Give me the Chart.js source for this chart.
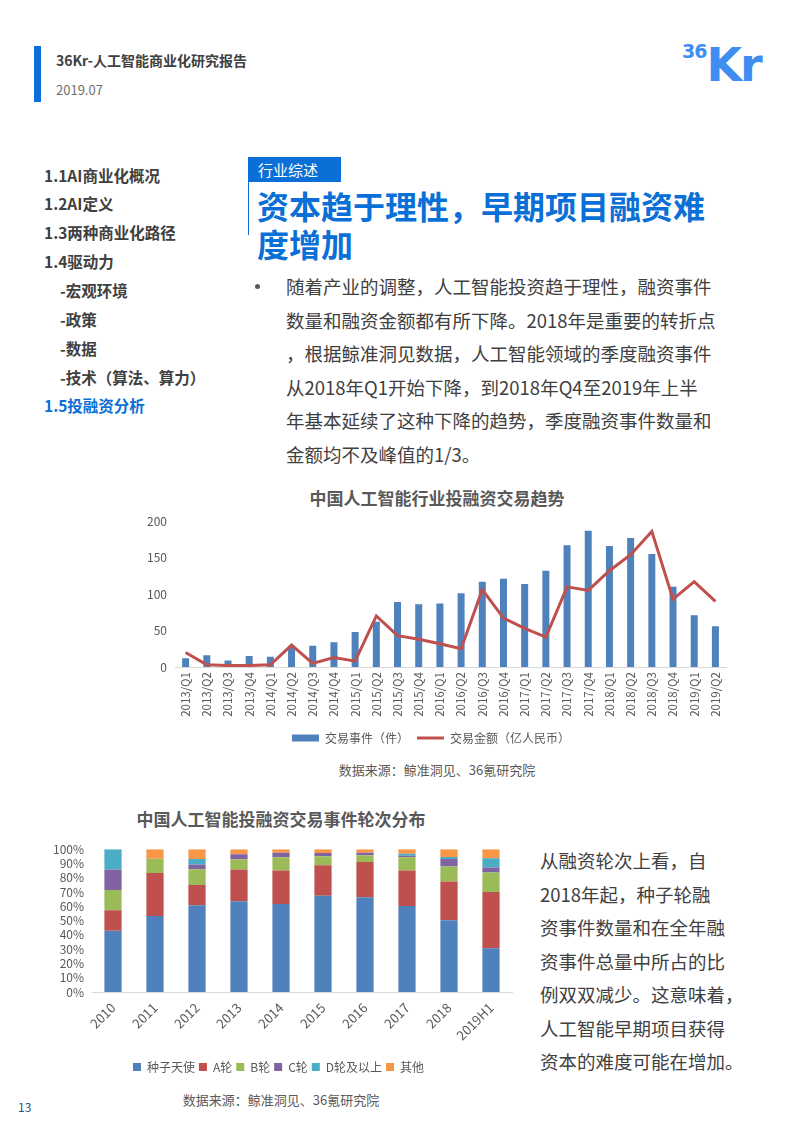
<!DOCTYPE html>
<html lang="zh">
<head>
<meta charset="UTF-8">
<title>36Kr-人工智能商业化研究报告</title>
<script src="https://cdn.jsdelivr.net/npm/chart.js@4.4.0/dist/chart.umd.min.js"></script>
<style>
  body { margin:0; width:793px; height:1122px; position:relative; background:#fff;
         font-family:"Noto Sans CJK SC","Noto Sans",sans-serif; color:#404040; overflow:hidden; }
  .abs { position:absolute; white-space:nowrap; }
  .nav { position:absolute; left:44px; font-size:15.5px; font-weight:bold; color:#404040; line-height:20px; }
  .nav.sub { left:60px; }
  .para { font-size:18.5px; line-height:33.5px; color:#404040; }
  .ctitle { font-size:17px; font-weight:bold; color:#595959; text-align:center; }
  .src { font-size:13px; color:#595959; text-align:center; }
</style>
</head>
<body>
<!-- header -->
<div class="abs" style="left:34px;top:46px;width:7px;height:56px;background:#0a6fd6;"></div>
<div class="abs" style="left:56px;top:50px;font-size:14px;font-weight:bold;color:#404040;">36Kr-人工智能商业化研究报告</div>
<div class="abs" style="left:56px;top:80px;font-size:13px;color:#707070;">2019.07</div>
<div class="abs" style="left:682px;top:40px;color:#3d8ef0;font-family:'DejaVu Sans';font-weight:bold;">
  <span style="font-size:19px;vertical-align:top;letter-spacing:-1px;">36</span><span style="font-size:46px;line-height:50px;letter-spacing:-2px;">Kr</span>
</div>

<!-- left nav -->
<div class="nav" style="top:165px;">1.1AI商业化概况</div>
<div class="nav" style="top:193px;">1.2AI定义</div>
<div class="nav" style="top:222px;">1.3两种商业化路径</div>
<div class="nav" style="top:251px;">1.4驱动力</div>
<div class="nav sub" style="top:280px;">-宏观环境</div>
<div class="nav sub" style="top:309px;">-政策</div>
<div class="nav sub" style="top:338px;">-数据</div>
<div class="nav sub" style="top:367px;">-技术（算法、算力）</div>
<div class="nav" style="top:395px;color:#0a6fd6;">1.5投融资分析</div>

<!-- section heading -->
<div class="abs" style="left:248px;top:157px;width:1px;height:78px;background:#0a6fd6;"></div>
<div class="abs" style="left:248px;top:157px;width:93px;height:25px;background:#0a6fd6;color:#fff;font-size:15px;line-height:25px;padding-left:10px;box-sizing:border-box;">行业综述</div>
<div class="abs" style="left:257px;top:186px;font-size:32px;font-weight:bold;color:#0a6fd6;line-height:38px;">资本趋于理性，早期项目融资难<br>度增加</div>

<div class="abs" style="left:255px;top:284px;width:5px;height:5px;border-radius:3px;background:#595959;"></div>
<div class="abs para" style="left:286px;top:270px;">随着产业的调整，人工智能投资趋于理性，融资事件<br>数量和融资金额都有所下降。2018年是重要的转折点<br>，根据鲸准洞见数据，人工智能领域的季度融资事件<br>从2018年Q1开始下降，到2018年Q4至2019年上半<br>年基本延续了这种下降的趋势，季度融资事件数量和<br>金额均不及峰值的1/3。</div>

<!-- chart 1 -->
<div class="abs ctitle" style="left:237px;width:400px;top:485px;">中国人工智能行业投融资交易趋势</div>
<div class="abs" style="left:136px;top:506px;width:603px;height:250px;"><canvas id="c1"></canvas></div>
<div class="abs src" style="left:237px;width:400px;top:760px;">数据来源：鲸准洞见、36氪研究院</div>

<!-- chart 2 -->
<div class="abs ctitle" style="left:81px;width:400px;top:806px;">中国人工智能投融资交易事件轮次分布</div>
<div class="abs" style="left:45px;top:834px;width:477px;height:249px;"><canvas id="c2"></canvas></div>
<div class="abs src" style="left:81px;width:400px;top:1090px;">数据来源：鲸准洞见、36氪研究院</div>

<div class="abs para" style="left:540px;top:844px;">从融资轮次上看，自<br>2018年起，种子轮融<br>资事件数量和在全年融<br>资事件总量中所占的比<br>例双双减少。这意味着，<br>人工智能早期项目获得<br>资本的难度可能在增加。</div>

<div class="abs" style="left:18px;top:1098px;font-size:12px;color:#2f4f7a;">13</div>

<script>
var quarters = ['2013/Q1','2013/Q2','2013/Q3','2013/Q4','2014/Q1','2014/Q2','2014/Q3','2014/Q4',
  '2015/Q1','2015/Q2','2015/Q3','2015/Q4','2016/Q1','2016/Q2','2016/Q3','2016/Q4',
  '2017/Q1','2017/Q2','2017/Q3','2017/Q4','2018/Q1','2018/Q2','2018/Q3','2018/Q4','2019/Q1','2019/Q2'];
var dealCount = [12,16,9,15,14,28,29,34,48,62,89,86,87,101,117,121,114,132,167,187,166,177,155,110,71,56];
var dealAmount = [20,3,2,2,3,30,5,13,8,70,43,38,32,25,106,67,53,41,110,105,132,154,186,93,117,90];

var years = ['2010','2011','2012','2013','2014','2015','2016','2017','2018','2019H1'];
var seedAngel = [42.9,53.3,60.7,63.6,61.7,67.4,66.4,60.2,50.2,30.7];
var roundA = [14.3,30.0,14.3,22.1,23.3,21.4,24.6,24.8,27.2,39.3];
var roundB = [14.3,10.0,11.0,7.2,9.3,6.2,4.7,9.3,10.5,13.6];
var roundC = [14.3,0,3.3,3.5,3.3,2.4,1.9,1.2,5.2,3.5];
var roundDplus = [14.2,0,3.8,0,0,0,0,1.4,1.4,6.5];
var others = [0,6.7,6.9,3.6,2.4,2.6,2.4,3.1,5.5,6.4];

Chart.defaults.font.family = '"Noto Sans CJK SC","Noto Sans",sans-serif';
Chart.defaults.color = '#595959';
Chart.defaults.animation = false;

new Chart(document.getElementById('c1'), {
  type: 'bar',
  data: {
    labels: quarters,
    datasets: [
      { type:'bar', label:'交易事件（件）', data: dealCount, backgroundColor:'#4F81BD',
        barPercentage:0.66, categoryPercentage:0.5, order:1, pointStyle:'rect' },
      { type:'line', label:'交易金额（亿人民币）', data: dealAmount, borderColor:'#C0504D',
        backgroundColor:'#C0504D', borderWidth:3, pointRadius:0, tension:0, order:0, pointStyle:'line' }
    ]
  },
  options: {
    responsive:true, maintainAspectRatio:false,
    layout:{ padding:{ top:3, right:13, left:0, bottom:2 } },
    plugins:{
      legend:{ position:'bottom',
        labels:{ usePointStyle:true, pointStyleWidth:27, boxWidth:27, boxHeight:7, padding:8,
          font:{ size:12 }, color:'#595959',
          sort:function(a,b){ return a.datasetIndex - b.datasetIndex; } } },
      tooltip:{ enabled:false }
    },
    scales:{
      x:{ grid:{ display:false, drawTicks:false }, border:{ color:'#d9d9d9' },
        ticks:{ minRotation:90, maxRotation:90, autoSkip:false, padding:5, font:{ size:11.5 } },
        afterFit:function(s){ s.height = 57; } },
      y:{ min:0, max:200, grid:{ display:false, drawTicks:false }, border:{ display:false },
        ticks:{ stepSize:50, padding:8, font:{ size:12 } },
        afterFit:function(s){ s.width = 39; } }
    }
  }
});

new Chart(document.getElementById('c2'), {
  type: 'bar',
  data: {
    labels: years,
    datasets: [
      { label:'种子天使', data: seedAngel, backgroundColor:'#4F81BD' },
      { label:'A轮', data: roundA, backgroundColor:'#C0504D' },
      { label:'B轮', data: roundB, backgroundColor:'#9BBB59' },
      { label:'C轮', data: roundC, backgroundColor:'#8064A2' },
      { label:'D轮及以上', data: roundDplus, backgroundColor:'#4BACC6' },
      { label:'其他', data: others, backgroundColor:'#F79646' }
    ]
  },
  options: {
    responsive:true, maintainAspectRatio:false,
    layout:{ padding:{ top:4, right:10, left:0, bottom:0 } },
    datasets:{ bar:{ barPercentage:0.82, categoryPercentage:0.5 } },
    plugins:{
      legend:{ position:'bottom',
        labels:{ boxWidth:8, boxHeight:8, padding:4, font:{ size:12 }, color:'#595959' } },
      tooltip:{ enabled:false }
    },
    scales:{
      x:{ stacked:true, grid:{ display:false, drawTicks:false }, border:{ color:'#d9d9d9' },
        ticks:{ minRotation:45, maxRotation:45, autoSkip:false, padding:8, font:{ size:13 } },
        afterFit:function(s){ s.height = 65; } },
      y:{ stacked:true, min:0, max:100, grid:{ display:false, drawTicks:false }, border:{ display:false },
        ticks:{ stepSize:10, autoSkip:false, padding:8, font:{ size:12 },
          callback:function(v){ return v + '%'; } },
        afterFit:function(s){ s.width = 47; } }
    }
  }
});
</script>
</body>
</html>
